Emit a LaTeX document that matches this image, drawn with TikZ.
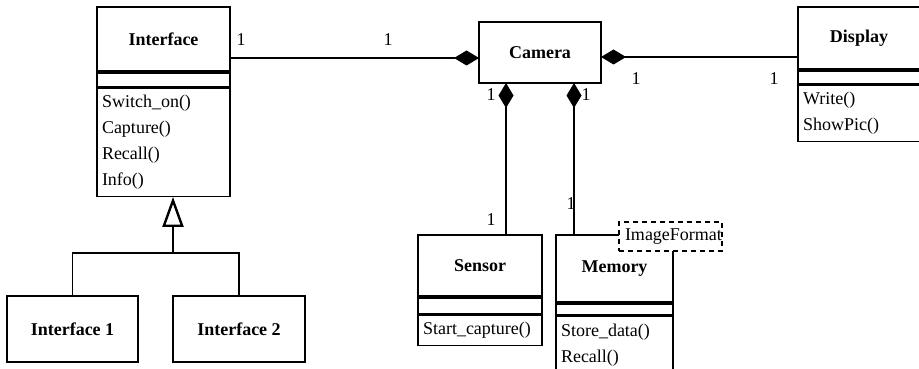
\documentclass[tikz,border=0pt]{standalone}
\usepackage{fontspec}
\setmainfont{Liberation Serif}
\usetikzlibrary{arrows.meta, positioning}

\begin{document}
\begin{tikzpicture}[x = 1pt, y = -1pt, line width = 1.3pt,
    font = \fontsize{18}{26}\selectfont,
    head/.style = {draw, font = \fontsize{18}{26}\selectfont\bfseries, inner sep = 0},
    attr/.style = {draw, line width = 2pt, inner sep = 0,
      append after command = {\pgfextra{\draw [line width = 3.2pt]
        (\tikzlastnode.north west) -- (\tikzlastnode.north east);}}},
    meth/.style = {draw, align = left, inner xsep = 5pt, inner ysep = 0},
    comp/.style = {{Diamond[length = 25pt, width = 15pt]}-},
    one/.style = {inner sep = 0}]
    \useasboundingbox (0,0) rectangle (919,369);
    \clip (0,0) rectangle (919,369);
    % Interface class and its two subclasses
    \node [head, minimum width = 133pt, minimum height = 64pt] (iface) at (163.5,39) {Interface};
    \node [attr, minimum width = 133pt, minimum height = 14pt, below = 0pt of iface] (ifaceA) {};
    \node [meth, text width = 123pt, minimum height = 108pt, below = 0pt of ifaceA] (ifaceM)
      {Switch\_on()\\Capture()\\Recall()\\Info()};
    \node [head, minimum width = 131pt, minimum height = 66pt] (if1) at (72.5,329) {Interface 1};
    \node [head, minimum width = 132pt, minimum height = 66pt] (if2) at (239,329) {Interface 2};
    \coordinate (gen) at (173,253);
    \draw (if1.north) |- (gen) -| (if2.north);
    \draw [-{Triangle[open, length = 30pt, width = 21pt]}, line width = 2.4pt]
      (gen) -- (gen |- ifaceM.south);
    % Camera
    \node [head, minimum width = 122pt, minimum height = 61pt] (cam) at (540,52.5) {Camera};
    % Display
    \node [head, minimum width = 122pt, minimum height = 62pt] (disp) at (859,38) {Display};
    \node [attr, minimum width = 122pt, minimum height = 13pt, below = 0pt of disp] (dispA) {};
    \node [meth, text width = 112pt, minimum height = 56pt, below = 0pt of dispA] (dispM)
      {Write()\\ShowPic()};
    % Sensor
    \node [head, minimum width = 124pt, minimum height = 61pt] (sens) at (480,265.5) {Sensor};
    \node [attr, minimum width = 124pt, minimum height = 16pt, below = 0pt of sens] (sensA) {};
    \node [meth, text width = 114pt, minimum height = 30pt, below = 0pt of sensA] (sensM)
      {Start\_capture()};
    % Memory
    \node [head, minimum width = 117pt, minimum height = 67pt] (mem) at (614.5,268.5) {Memory};
    \node [attr, minimum width = 117pt, minimum height = 11pt, below = 0pt of mem] (memA) {};
    \node [meth, text width = 107pt, minimum height = 58pt, below = 0pt of memA] (memM)
      {Store\_data()\\Recall()};
    \node [draw, dash pattern = on 5pt off 4pt, fill = white, minimum width = 103pt,
      minimum height = 29pt, inner sep = 0] (fmt) at (670.5,236.5) {};
    \node [anchor = west, inner sep = 0] (fmtT) at ([xshift = 6pt]fmt.west) {ImageFormat};
    % compositions
    \coordinate (camL) at (479,58);
    \coordinate (camR) at (601,57);
    \coordinate (camS) at (506,83);
    \coordinate (camM) at (574,83);
    \draw [comp] (camL) -- (iface.east |- camL);
    \draw [comp] (camR) -- (camR -| disp.west);
    \draw [comp] (camS) -- (camS |- sens.north);
    \draw [comp] (camM) -- (camM |- mem.north);
    \node [one] (nIf) at (241,40) {1};
    \node [one] (nCamL) at (388,40) {1};
    \node [one] (nCamR) at (636,79) {1};
    \node [one] (nDisp) at (774,79) {1};
    \node [one] (nCamS) at (491,95) {1};
    \node [one] (nSens) at (491,220) {1};
    \node [one] (nCamM) at (586,95) {1};
    \node [one] (nMem) at (571,204) {1};
\end{tikzpicture}
\end{document}
